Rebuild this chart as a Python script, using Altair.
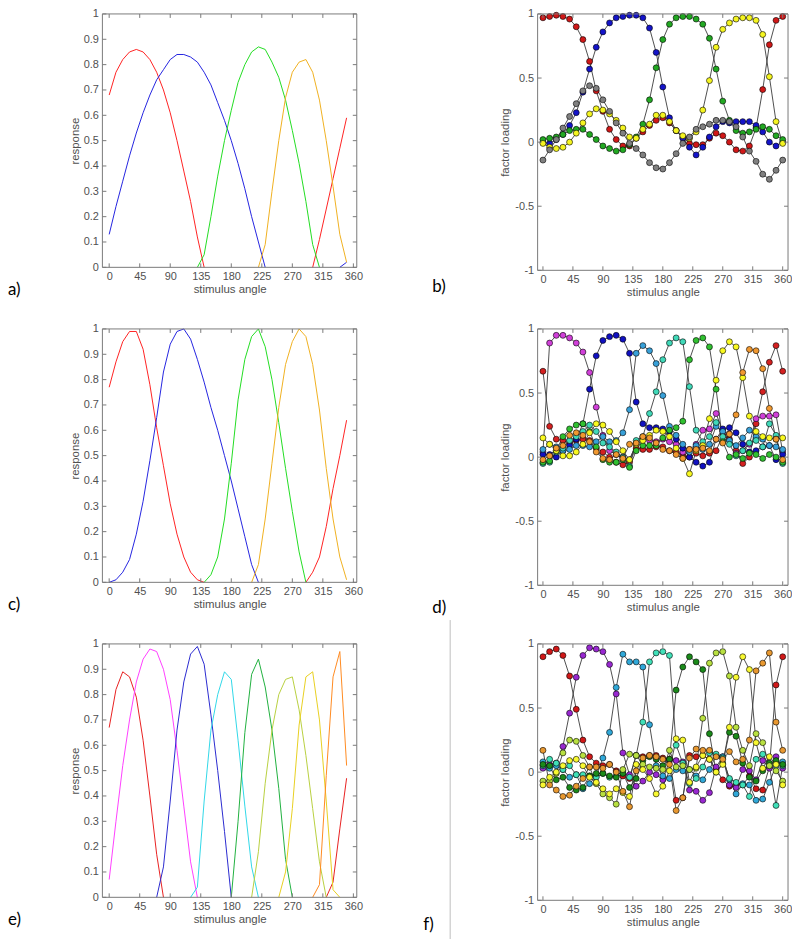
import altair as alt
import pandas as pd

# ---------------- data ----------------
ANG36 = [0, 10, 20, 30, 40, 50, 60, 70, 80, 90, 100, 110, 120, 130, 140, 150, 160, 170,
         180, 190, 200, 210, 220, 230, 240, 250, 260, 270, 280, 290, 300, 310, 320, 330, 340, 350]
ANG37 = ANG36 + [360]
XTICKS = [0, 45, 90, 135, 180, 225, 270, 315, 360]
YTICKS_RESP = [0, 0.1, 0.2, 0.3, 0.4, 0.5, 0.6, 0.7, 0.8, 0.9, 1]
YTICKS_LOAD = [-1, -0.5, 0, 0.5, 1]
PANEL_LABELS = ["a)", "b)", "c)", "d)", "e)", "f)"]

# panel a (response curves, 4 units)
A_RED = [0.68, 0.77, 0.82, 0.85, 0.86, 0.85, 0.82, 0.77, 0.70, 0.61, 0.50, 0.38, 0.26, 0.12, 0.0,
         0, 0, 0, 0, 0, 0, 0, 0, 0, 0, 0, 0, 0, 0, 0,
         0.0, 0.11, 0.23, 0.35, 0.47, 0.59]
A_BLUE = [0.13, 0.24, 0.34, 0.44, 0.53, 0.61, 0.68, 0.74, 0.78, 0.82, 0.84, 0.84, 0.83, 0.81, 0.77,
          0.72, 0.65, 0.58, 0.50, 0.41, 0.31, 0.20, 0.10, 0.0,
          0, 0, 0, 0, 0, 0, 0, 0, 0, 0, 0.0, 0.02]
A_GREEN = [0, 0, 0, 0, 0, 0, 0, 0, 0, 0, 0, 0, 0, 0,
           0.05, 0.20, 0.36, 0.50, 0.62, 0.73, 0.80, 0.85, 0.87, 0.86, 0.81, 0.75, 0.66, 0.54,
           0.41, 0.26, 0.09, 0.0, 0, 0, 0, 0]
A_ORANGE = [0, 0, 0, 0, 0, 0, 0, 0, 0, 0, 0, 0, 0, 0, 0, 0, 0, 0, 0, 0, 0, 0,
            0.0, 0.09, 0.30, 0.50, 0.67, 0.77, 0.81, 0.82, 0.77, 0.66, 0.50, 0.32, 0.13, 0.02]

# panel c (response curves, 4 units)
C_RED = [0.77, 0.87, 0.95, 0.99, 0.99, 0.92, 0.78, 0.61, 0.46, 0.31, 0.19, 0.10, 0.04, 0.01, 0.0,
         0, 0, 0, 0, 0, 0, 0, 0, 0, 0, 0, 0, 0, 0,
         0.0, 0.04, 0.10, 0.22, 0.37, 0.50, 0.64]
C_BLUE = [0.0, 0.01, 0.04, 0.09, 0.19, 0.32, 0.48, 0.65, 0.83, 0.94, 0.99, 1.0, 0.96, 0.88, 0.79,
          0.69, 0.60, 0.50, 0.40, 0.29, 0.18, 0.07, 0.0,
          0, 0, 0, 0, 0, 0, 0, 0, 0, 0, 0, 0, 0]
C_GREEN = [0, 0, 0, 0, 0, 0, 0, 0, 0, 0, 0, 0, 0, 0, 0,
           0.03, 0.10, 0.25, 0.47, 0.72, 0.88, 0.97, 1.0, 0.93, 0.80, 0.63, 0.45, 0.28, 0.12,
           0.0, 0, 0, 0, 0, 0, 0]
C_ORANGE = [0, 0, 0, 0, 0, 0, 0, 0, 0, 0, 0, 0, 0, 0, 0, 0, 0, 0, 0, 0, 0,
            0.0, 0.07, 0.25, 0.47, 0.69, 0.86, 0.95, 1.0, 0.97, 0.86, 0.68, 0.45, 0.25, 0.10, 0.01]

# panel e (response curves, 8 units)
E_RED = [0.67, 0.82, 0.89, 0.87, 0.79, 0.62, 0.40, 0.17, 0.0,
         0, 0, 0, 0, 0, 0, 0, 0, 0, 0, 0, 0, 0, 0, 0, 0, 0, 0, 0, 0, 0, 0, 0, 0,
         0.06, 0.27, 0.47]
E_MAGENTA = [0.07, 0.30, 0.52, 0.70, 0.85, 0.94, 0.98, 0.97, 0.90, 0.78, 0.58, 0.36, 0.14, 0.0,
             0, 0, 0, 0, 0, 0, 0, 0, 0, 0, 0, 0, 0, 0, 0, 0, 0, 0, 0, 0, 0, 0]
E_BLUE = [0, 0, 0, 0, 0, 0, 0,
          0.0, 0.12, 0.38, 0.66, 0.85, 0.96, 0.99, 0.92, 0.72, 0.50, 0.26, 0.0,
          0, 0, 0, 0, 0, 0, 0, 0, 0, 0, 0, 0, 0, 0, 0, 0, 0]
E_CYAN = [0, 0, 0, 0, 0, 0, 0, 0, 0, 0, 0, 0,
          0.0, 0.04, 0.38, 0.66, 0.80, 0.89, 0.86, 0.62, 0.36, 0.12, 0.0,
          0, 0, 0, 0, 0, 0, 0, 0, 0, 0, 0, 0, 0]
E_GREEN = [0, 0, 0, 0, 0, 0, 0, 0, 0, 0, 0, 0, 0, 0, 0, 0, 0, 0,
           0.0, 0.30, 0.65, 0.88, 0.94, 0.83, 0.66, 0.43, 0.15, 0.0,
           0, 0, 0, 0, 0, 0, 0, 0]
E_YGREEN = [0, 0, 0, 0, 0, 0, 0, 0, 0, 0, 0, 0, 0, 0, 0, 0, 0, 0, 0, 0, 0,
            0.0, 0.18, 0.45, 0.66, 0.80, 0.86, 0.87, 0.74, 0.56, 0.35, 0.14, 0.0, 0, 0, 0]
E_YELLOW = [0, 0, 0, 0, 0, 0, 0, 0, 0, 0, 0, 0, 0, 0, 0, 0, 0, 0, 0, 0, 0, 0, 0, 0, 0,
            0.0, 0.10, 0.35, 0.68, 0.87, 0.89, 0.70, 0.38, 0.03, 0.0, 0.0]
E_ORANGE = [0, 0, 0, 0, 0, 0, 0, 0, 0, 0, 0, 0, 0, 0, 0, 0, 0, 0, 0, 0, 0, 0, 0, 0, 0, 0, 0, 0, 0, 0,
            0.0, 0.05, 0.48, 0.87, 0.97, 0.52]

# panel b (factor loadings, 5 factors)
B_RED = [0.97, 0.98, 0.99, 0.98, 0.96, 0.90, 0.80, 0.63, 0.40, 0.24, 0.10, 0.02, -0.03, -0.03, 0.03,
         0.08, 0.13, 0.17, 0.19, 0.15, 0.09, 0.04, -0.01, -0.02, -0.02, 0.03, 0.07, 0.05, 0.00,
         -0.06, -0.07, -0.03, 0.11, 0.41, 0.76, 0.95, 0.98]
B_BLUE = [0.00, -0.01, 0.02, 0.06, 0.13, 0.23, 0.39, 0.57, 0.74, 0.86, 0.93, 0.97, 0.98, 0.99, 0.99,
          0.97, 0.89, 0.70, 0.43, 0.19, 0.09, 0.03, -0.04, -0.10, -0.04, 0.04, 0.12, 0.16, 0.15,
          0.16, 0.16, 0.16, 0.13, 0.08, 0.00, -0.03, 0.00]
B_GREEN = [0.02, 0.03, 0.04, 0.06, 0.09, 0.10, 0.10, 0.06, 0.02, -0.03, -0.05, -0.07, -0.06, -0.02,
           0.04, 0.14, 0.33, 0.58, 0.80, 0.92, 0.97, 0.98, 0.98, 0.96, 0.92, 0.81, 0.57, 0.32,
           0.17, 0.09, 0.07, 0.08, 0.10, 0.12, 0.10, 0.05, 0.02]
B_YELLOW = [-0.01, -0.04, -0.05, -0.04, 0.00, 0.07, 0.15, 0.22, 0.26, 0.25, 0.22, 0.17, 0.11, 0.04,
            0.03, 0.10, 0.14, 0.21, 0.21, 0.16, 0.09, 0.05, 0.03, 0.08, 0.25, 0.48, 0.74, 0.88,
            0.93, 0.96, 0.97, 0.97, 0.95, 0.84, 0.51, 0.16, -0.01]
B_GRAY = [-0.14, -0.06, 0.02, 0.11, 0.20, 0.30, 0.40, 0.44, 0.42, 0.33, 0.24, 0.15, 0.07, -0.01,
          -0.05, -0.10, -0.16, -0.20, -0.21, -0.16, -0.09, -0.01, 0.04, 0.10, 0.12, 0.14, 0.17,
          0.17, 0.16, 0.12, 0.04, -0.07, -0.15, -0.25, -0.29, -0.22, -0.14]

# panel d (factor loadings, 8 factors)
D_RED = [0.67, 0.24, 0.14, 0.13, 0.11, 0.13, 0.14, 0.13, 0.07, 0.04, 0.00, -0.04, -0.06, -0.04, 0.07,
         0.06, 0.06, 0.08, 0.08, 0.05, 0.04, 0.01, 0.00, 0.03, 0.01, 0.03, 0.05, 0.17, 0.14, 0.05,
         -0.05, 0.00, 0.26, 0.51, 0.74, 0.87, 0.67]
D_MAGENTA = [0.04, 0.89, 0.95, 0.95, 0.93, 0.89, 0.82, 0.66, 0.39, 0.17, 0.05, 0.02, 0.00, -0.02,
             0.10, 0.15, 0.13, 0.12, 0.14, 0.12, 0.10, 0.04, 0.06, 0.10, 0.21, 0.22, 0.34, 0.20,
             0.18, 0.03, 0.05, 0.10, 0.30, 0.32, 0.32, 0.33, 0.04]
D_BLUE = [0.02, 0.02, 0.00, 0.05, 0.09, 0.14, 0.26, 0.53, 0.79, 0.91, 0.94, 0.95, 0.92, 0.81, 0.43,
          0.26, 0.23, 0.23, 0.22, 0.20, 0.14, 0.07, 0.00, -0.04, -0.07, -0.04, 0.14, 0.22, 0.23,
          0.19, 0.10, 0.04, 0.05, 0.08, 0.09, -0.02, 0.02]
D_SKY = [0.06, 0.10, 0.08, 0.05, 0.06, 0.09, 0.09, 0.08, 0.12, 0.16, 0.12, 0.13, 0.19, 0.37, 0.81,
         0.87, 0.83, 0.73, 0.48, 0.24, 0.17, 0.10, 0.04, 0.09, 0.06, 0.10, 0.24, 0.20, 0.13, 0.09,
         0.15, 0.21, 0.16, 0.14, 0.09, 0.08, 0.06]
D_TEAL = [-0.05, -0.04, 0.04, 0.07, 0.13, 0.16, 0.20, 0.25, 0.20, 0.11, 0.08, 0.04, 0.00, -0.07,
          0.13, 0.16, 0.34, 0.51, 0.76, 0.89, 0.93, 0.90, 0.55, 0.21, 0.12, 0.16, 0.27, 0.16, 0.10,
          0.01, 0.05, 0.11, 0.13, 0.08, 0.26, 0.17, -0.05]
D_GREEN = [-0.04, -0.03, 0.05, 0.16, 0.22, 0.25, 0.26, 0.20, 0.08, -0.02, -0.04, -0.04, -0.02, -0.08,
           0.05, 0.09, 0.09, 0.09, 0.15, 0.21, 0.23, 0.28, 0.76, 0.91, 0.93, 0.86, 0.53, 0.12, 0.00,
           0.02, -0.01, 0.03, 0.02, -0.01, 0.02, 0.00, -0.04]
D_YELLOW = [0.15, 0.10, 0.05, 0.01, 0.01, 0.04, 0.10, 0.19, 0.26, 0.25, 0.20, 0.12, 0.05, -0.02,
            0.10, 0.13, 0.17, 0.21, 0.20, 0.16, 0.07, -0.01, -0.13, 0.05, 0.09, 0.30, 0.60, 0.83,
            0.90, 0.86, 0.62, 0.32, 0.20, 0.16, 0.15, 0.14, 0.15]
D_ORANGE = [-0.02, 0.01, 0.07, 0.09, 0.17, 0.19, 0.17, 0.12, 0.04, -0.01, -0.02, 0.02, -0.01, 0.10,
            0.11, 0.16, 0.15, 0.11, 0.06, 0.05, 0.02, -0.01, 0.06, 0.06, 0.07, 0.05, 0.14, 0.11,
            0.18, 0.33, 0.66, 0.84, 0.83, 0.69, 0.38, 0.14, -0.02]

# panel f (factor loadings, 8 factors)
F_RED = [0.90, 0.94, 0.96, 0.91, 0.75, 0.49, 0.25, 0.12, 0.07, 0.05, 0.06, 0.01, -0.03, -0.05, 0.13,
         0.12, 0.13, 0.13, 0.11, 0.10, -0.22, -0.20, 0.13, 0.12, 0.13, 0.10, 0.02, -0.06, -0.11,
         -0.09, -0.10, -0.03, -0.13, -0.14, 0.04, 0.68, 0.90]
F_PURPLE = [0.03, 0.06, 0.07, 0.20, 0.46, 0.74, 0.91, 0.97, 0.96, 0.94, 0.84, 0.61, 0.15, -0.02,
            -0.11, -0.07, 0.00, -0.02, -0.06, 0.09, 0.09, 0.08, -0.14, -0.15, -0.22, -0.16, 0.04,
            0.12, -0.10, -0.12, 0.02, 0.01, -0.06, 0.09, 0.03, 0.12, 0.03]
F_SKY = [0.08, 0.03, 0.05, 0.02, -0.04, -0.02, -0.13, -0.09, -0.03, 0.11, 0.31, 0.66, 0.92, 0.86,
         0.86, 0.82, 0.37, 0.05, -0.03, -0.05, 0.02, 0.01, 0.02, -0.03, -0.06, 0.02, 0.13, 0.12,
         -0.06, -0.17, -0.09, -0.10, -0.22, -0.21, -0.08, 0.05, 0.08]
F_TEAL = [0.05, 0.10, 0.07, 0.02, 0.05, -0.02, -0.02, -0.03, -0.04, -0.01, -0.04, -0.03, 0.01, -0.04,
          0.13, 0.39, 0.86, 0.93, 0.94, 0.91, 0.21, 0.07, -0.09, -0.05, 0.04, 0.15, 0.14, 0.11,
          -0.05, -0.08, -0.10, -0.19, 0.10, 0.14, 0.05, -0.26, 0.05]
F_DGREEN = [0.06, 0.05, -0.06, -0.04, -0.12, -0.14, -0.12, -0.03, -0.01, -0.01, -0.03, -0.04, -0.01,
            -0.12, -0.05, 0.09, 0.12, 0.10, 0.05, 0.10, 0.64, 0.82, 0.90, 0.86, 0.80, 0.30, 0.00,
            0.07, 0.31, 0.28, 0.07, -0.04, -0.07, 0.01, 0.07, 0.09, 0.06]
F_YGREEN = [-0.07, -0.07, -0.01, 0.15, 0.25, 0.24, 0.13, 0.04, -0.09, -0.17, -0.20, -0.25, 0.02,
            0.14, 0.13, 0.06, 0.04, 0.03, 0.02, 0.17, 0.04, 0.05, 0.02, 0.03, 0.42, 0.85, 0.93,
            0.94, 0.75, 0.35, 0.17, 0.05, 0.30, 0.23, 0.05, 0.01, -0.07]
F_YELLOW = [-0.10, -0.04, 0.00, 0.05, 0.09, 0.10, 0.05, -0.04, -0.08, -0.13, -0.17, -0.13, -0.16,
            -0.19, 0.06, 0.02, -0.05, -0.17, -0.11, 0.01, 0.26, 0.25, -0.08, 0.04, 0.13, 0.10,
            0.00, 0.06, 0.35, 0.74, 0.90, 0.80, 0.23, 0.03, 0.12, 0.06, -0.10]
F_ORANGE = [0.17, -0.10, -0.14, -0.19, -0.18, -0.11, -0.05, 0.04, 0.04, 0.03, 0.06, 0.00, -0.15,
            -0.27, 0.01, 0.11, 0.13, 0.12, 0.10, 0.06, -0.30, -0.20, 0.11, 0.18, 0.17, 0.17, 0.12,
            0.10, 0.16, 0.08, 0.10, 0.25, 0.79, 0.85, 0.93, 0.39, 0.17]

# ---------------- styling ----------------
FRAME = "#7a7a7a"
TXT = "#505050"
FONT = "Liberation Sans"
LW, LH = 256, 255        # left panels (response)
RW, RH = 252, 258        # right panels (factor loading)
LX = [-10, 365]
RX = [-8, 368]
TICK = 4

AX = dict(grid=False, ticks=False, domain=False, labelFont=FONT, labelFontSize=11, labelColor=TXT,
          titleFont=FONT, titleFontSize=11.5, titleColor=TXT, titleFontWeight="normal")


def x_axis():
    return alt.Axis(values=XTICKS, title="stimulus angle", labelPadding=3, titlePadding=2, **AX)


def y_axis_resp():
    return alt.Axis(values=YTICKS_RESP, title="response", labelExpr="'' + datum.value",
                    labelPadding=4, titlePadding=3, **AX)


def y_axis_load():
    return alt.Axis(values=YTICKS_LOAD, title="factor loading", labelExpr="'' + datum.value",
                    labelPadding=4, titlePadding=4, **AX)


def curve_df(angles, series, prefix):
    """Rectified curves: long runs of zeros are dropped (split into segments)."""
    rows = []
    for name, vals in series:
        n = len(vals)
        seg = 0
        prev_kept = False
        for i, (a, v) in enumerate(zip(angles, vals)):
            keep = (v > 0 or (i > 0 and vals[i - 1] > 0) or (i < n - 1 and vals[i + 1] > 0))
            if keep:
                if not prev_kept:
                    seg += 1
                rows.append({"angle": a, "value": v, "name": prefix + name,
                             "seg": f"{prefix}{name}{seg}"})
            prev_kept = keep
    return pd.DataFrame(rows)


def long_df(angles, series, prefix):
    rows = []
    for name, vals in series:
        for a, v in zip(angles, vals):
            rows.append({"angle": a, "value": v, "name": prefix + name})
    return pd.DataFrame(rows)


def decor(W, H, xs, ys, yticks, yax):
    xt = alt.Chart(pd.DataFrame({"angle": XTICKS}))
    yt = alt.Chart(pd.DataFrame({"value": yticks}))
    return [
        xt.mark_rule(color=FRAME, strokeWidth=1).encode(
            x=alt.X("angle:Q", scale=xs, axis=x_axis()), y=alt.value(H), y2=alt.value(H - TICK)),
        xt.mark_rule(color=FRAME, strokeWidth=1).encode(
            x=alt.X("angle:Q", scale=xs, axis=x_axis()), y=alt.value(0), y2=alt.value(TICK)),
        yt.mark_rule(color=FRAME, strokeWidth=1).encode(
            y=alt.Y("value:Q", scale=ys, axis=yax), x=alt.value(0), x2=alt.value(TICK)),
        yt.mark_rule(color=FRAME, strokeWidth=1).encode(
            y=alt.Y("value:Q", scale=ys, axis=yax), x=alt.value(W - TICK), x2=alt.value(W)),
        alt.Chart(pd.DataFrame({"f": [1]})).mark_rect(
            fillOpacity=0, stroke=FRAME, strokeWidth=1).encode(
            x=alt.value(0), x2=alt.value(W), y=alt.value(0), y2=alt.value(H)),
    ]


def label_layer(text, dx, dy):
    return alt.Chart(pd.DataFrame({"t": [text]})).mark_text(
        align="left", baseline="middle", font="Lato", fontSize=17, color="black"
    ).encode(x=alt.value(dx), y=alt.value(dy), text="t:N")


def response_panel(series, colors, label, prefix):
    df = curve_df(ANG36, series, prefix)
    names = [prefix + n for n, _ in series]
    xs = alt.Scale(domain=LX, nice=False, zero=False)
    ys = alt.Scale(domain=[0, 1], nice=False, zero=False)
    lines = alt.Chart(df).mark_line(strokeWidth=1.0).encode(
        x=alt.X("angle:Q", scale=xs, axis=x_axis()),
        y=alt.Y("value:Q", scale=ys, axis=y_axis_resp()),
        color=alt.Color("name:N", scale=alt.Scale(domain=names, range=colors), legend=None),
        detail="seg:N",
    )
    layers = [lines] + decor(LW, LH, xs, ys, YTICKS_RESP, y_axis_resp()) + [label_layer(label, -95, 278)]
    return alt.layer(*layers).properties(width=LW, height=LH)


def loading_panel(series, colors, label, lab_dx, lab_dy, prefix, extra=None):
    df = long_df(ANG37, series, prefix)
    names = [prefix + n for n, _ in series]
    xs = alt.Scale(domain=RX, nice=False, zero=False)
    ys = alt.Scale(domain=[-1, 1], nice=False, zero=False)
    lines = alt.Chart(df).mark_line(strokeWidth=0.9, color="#3a3a3a").encode(
        x=alt.X("angle:Q", scale=xs, axis=x_axis()),
        y=alt.Y("value:Q", scale=ys, axis=y_axis_load()),
        detail="name:N",
    )
    pts = alt.Chart(df).mark_point(filled=True, size=36, stroke="black", strokeWidth=0.6,
                                   opacity=1).encode(
        x=alt.X("angle:Q", scale=xs, axis=x_axis()),
        y=alt.Y("value:Q", scale=ys, axis=y_axis_load()),
        fill=alt.Fill("name:N", scale=alt.Scale(domain=names, range=colors), legend=None),
    )
    layers = [lines, pts] + decor(RW, RH, xs, ys, YTICKS_LOAD, y_axis_load()) + \
        [label_layer(label, lab_dx, lab_dy)]
    if extra is not None:
        layers.append(extra)
    return alt.layer(*layers).properties(width=RW, height=RH)


pa = response_panel(
    [("r", A_RED), ("b", A_BLUE), ("g", A_GREEN), ("o", A_ORANGE)],
    ["#ff2222", "#2424e0", "#22dd22", "#f0b020"], PANEL_LABELS[0], "a_")
pc = response_panel(
    [("r", C_RED), ("b", C_BLUE), ("g", C_GREEN), ("o", C_ORANGE)],
    ["#ff2222", "#2424e0", "#22dd22", "#f0b020"], PANEL_LABELS[2], "c_")
pe = response_panel(
    [("r", E_RED), ("m", E_MAGENTA), ("b", E_BLUE), ("c", E_CYAN), ("g", E_GREEN),
     ("yg", E_YGREEN), ("y", E_YELLOW), ("o", E_ORANGE)],
    ["#e82020", "#ff40ff", "#2a2ad0", "#30d8e8", "#20b040", "#b8d040", "#e8d020", "#ff8a20"],
    PANEL_LABELS[4], "e_")

pb = loading_panel(
    [("r", B_RED), ("b", B_BLUE), ("g", B_GREEN), ("y", B_YELLOW), ("k", B_GRAY)],
    ["#d01818", "#1414c8", "#22a822", "#f4f420", "#808080"], PANEL_LABELS[1], -106, 275, "b_")
pd_ = loading_panel(
    [("r", D_RED), ("m", D_MAGENTA), ("b", D_BLUE), ("s", D_SKY), ("t", D_TEAL), ("g", D_GREEN),
     ("y", D_YELLOW), ("o", D_ORANGE)],
    ["#d42020", "#d040d8", "#1010c0", "#38a0d8", "#40d8b8", "#30c030", "#f8f820", "#f09830"],
    PANEL_LABELS[3], -106, 281, "d_")
sep = alt.Chart(pd.DataFrame({"s": [1]})).mark_rule(color="#bdbdbd", strokeWidth=1).encode(
    x=alt.value(-88), y=alt.value(-24), y2=alt.value(300))
pf = loading_panel(
    [("r", F_RED), ("p", F_PURPLE), ("s", F_SKY), ("t", F_TEAL), ("dg", F_DGREEN),
     ("yg", F_YGREEN), ("y", F_YELLOW), ("o", F_ORANGE)],
    ["#d01818", "#9828d0", "#30a8d8", "#40e0b8", "#1a8a1a", "#b8e040", "#f8f830", "#e89830"],
    PANEL_LABELS[5], -115, 283, "f_", extra=sep)

chart = alt.concat(
    pa, pb, pc, pd_, pe, pf, columns=2, spacing={"row": 59, "column": 182}, bounds="flush"
).resolve_scale(color="independent", fill="independent").properties(
    padding={"top": -3, "left": 0, "right": 0, "bottom": 0}
).configure_view(stroke=None)

chart.save("out.html", embed_options={"renderer": "svg", "actions": False})
